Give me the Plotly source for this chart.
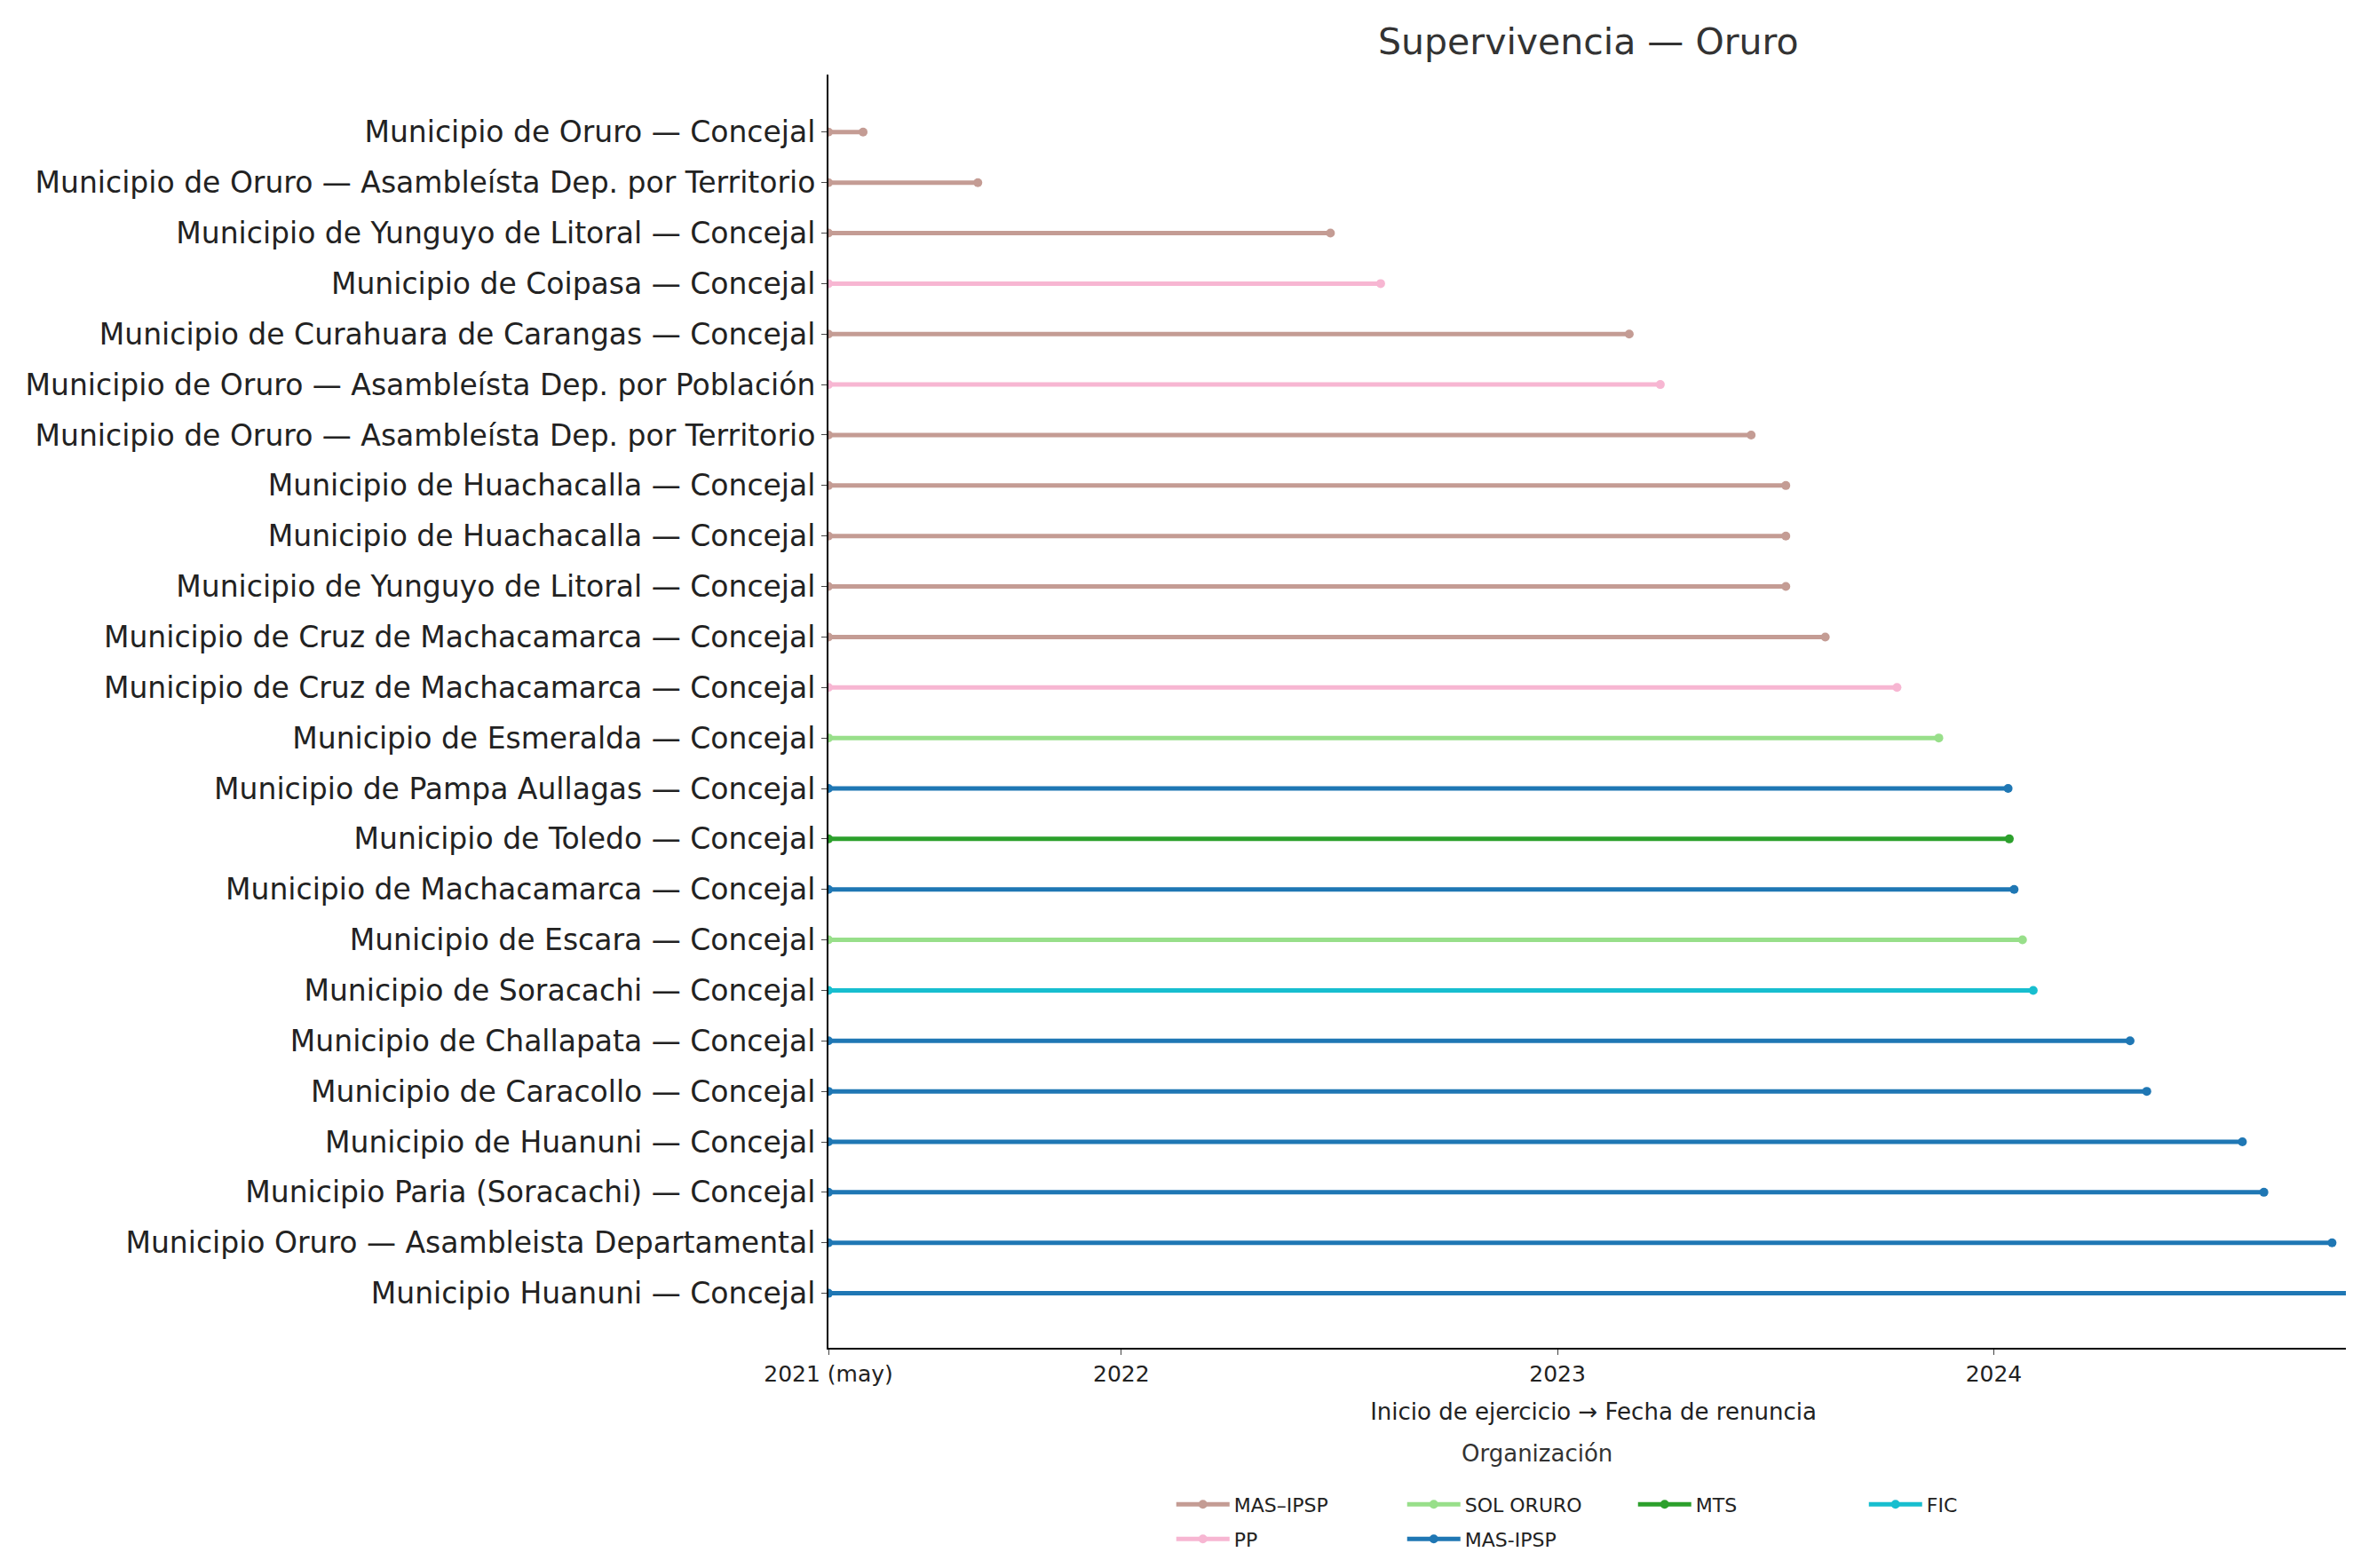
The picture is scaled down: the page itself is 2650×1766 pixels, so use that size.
import plotly.graph_objects as go

labels = [
 "Municipio de Oruro — Concejal",
 "Municipio de Oruro — Asambleísta Dep. por Territorio",
 "Municipio de Yunguyo de Litoral — Concejal",
 "Municipio de Coipasa — Concejal",
 "Municipio de Curahuara de Carangas — Concejal",
 "Municipio de Oruro — Asambleísta Dep. por Población",
 "Municipio de Oruro — Asambleísta Dep. por Territorio",
 "Municipio de Huachacalla — Concejal",
 "Municipio de Huachacalla — Concejal",
 "Municipio de Yunguyo de Litoral — Concejal",
 "Municipio de Cruz de Machacamarca — Concejal",
 "Municipio de Cruz de Machacamarca — Concejal",
 "Municipio de Esmeralda — Concejal",
 "Municipio de Pampa Aullagas — Concejal",
 "Municipio de Toledo — Concejal",
 "Municipio de Machacamarca — Concejal",
 "Municipio de Escara — Concejal",
 "Municipio de Soracachi — Concejal",
 "Municipio de Challapata — Concejal",
 "Municipio de Caracollo — Concejal",
 "Municipio de Huanuni — Concejal",
 "Municipio Paria (Soracachi) — Concejal",
 "Municipio Oruro — Asambleista Departamental",
 "Municipio Huanuni — Concejal",
]
orgs = ["MAS–IPSP","MAS–IPSP","MAS–IPSP","PP","MAS–IPSP","PP","MAS–IPSP","MAS–IPSP","MAS–IPSP","MAS–IPSP",
        "MAS–IPSP","PP","SOL ORURO","MAS-IPSP","MTS","MAS-IPSP","SOL ORURO","FIC","MAS-IPSP","MAS-IPSP",
        "MAS-IPSP","MAS-IPSP","MAS-IPSP","MAS-IPSP"]
start = "2021-05-01"
ends = ["2021-05-30","2021-09-03","2022-06-25","2022-08-06","2023-03-02","2023-03-28","2023-06-12","2023-07-11",
        "2023-07-11","2023-07-11","2023-08-13","2023-10-12","2023-11-16","2024-01-13","2024-01-14","2024-01-18",
        "2024-01-25","2024-02-03","2024-04-24","2024-05-08","2024-07-27","2024-08-14","2024-10-10","2024-11-01"]
colors = {"MAS–IPSP":"#c49c94","PP":"#f7b6d2","SOL ORURO":"#98df8a","MAS-IPSP":"#1f77b4","MTS":"#2ca02c","FIC":"#17becf"}
row1 = ["MAS–IPSP","SOL ORURO","MTS","FIC"]
order = ["MAS–IPSP","SOL ORURO","MTS","FIC","PP","MAS-IPSP"]

fig = go.Figure()
seen = set()
for i,(e,o) in enumerate(zip(ends,orgs)):
    show = o not in seen
    seen.add(o)
    fig.add_trace(go.Scatter(x=[start,e], y=[i,i], mode="lines+markers",
        line=dict(color=colors[o], width=5), marker=dict(size=10, color=colors[o]),
        name=o, legendgroup=o, showlegend=show, legendrank=order.index(o),
        legend="legend" if o in row1 else "legend2"))

leg = dict(orientation="h", xref="container", yref="container", x=0.495, xanchor="left", yanchor="middle",
           entrywidth=185, font=dict(size=22), bgcolor="rgba(0,0,0,0)", itemwidth=60)
fig.update_layout(
    width=2650, height=1766, plot_bgcolor="white", paper_bgcolor="white",
    margin=dict(l=925, r=2, t=76, b=256),
    font=dict(family="DejaVu Sans", color="#222"),
    title=dict(text="Supervivencia — Oruro", x=0.672, xanchor="center", y=0.978, yanchor="middle",
               font=dict(size=41, color="#333")),
    xaxis=dict(range=["2021-05-01","2024-11-01"], tickvals=["2021-05-01","2022-01-01","2023-01-01","2024-01-01"],
               ticktext=["2021 (may)","2022","2023","2024"], showline=True, linecolor="black", linewidth=2,
               ticks="outside", ticklen=6, tickfont=dict(size=25), showgrid=False, zeroline=False,
               title=dict(text="Inicio de ejercicio → Fecha de renuncia", font=dict(size=26), standoff=20)),
    yaxis=dict(range=[24.08,-1.14], tickvals=list(range(len(labels))), ticktext=labels, showline=True,
               linecolor="black", linewidth=2, ticks="outside", ticklen=6, tickfont=dict(size=33),
               showgrid=False, zeroline=False),
    legend=dict(leg, y=0.045),
    legend2=dict(leg, y=0.023),
    annotations=[dict(text="Organización", xref="paper", yref="paper", x=0.463, y=-0.095,
                      showarrow=False, font=dict(size=26, color="#333"))],
)
fig.write_html("out.html")
